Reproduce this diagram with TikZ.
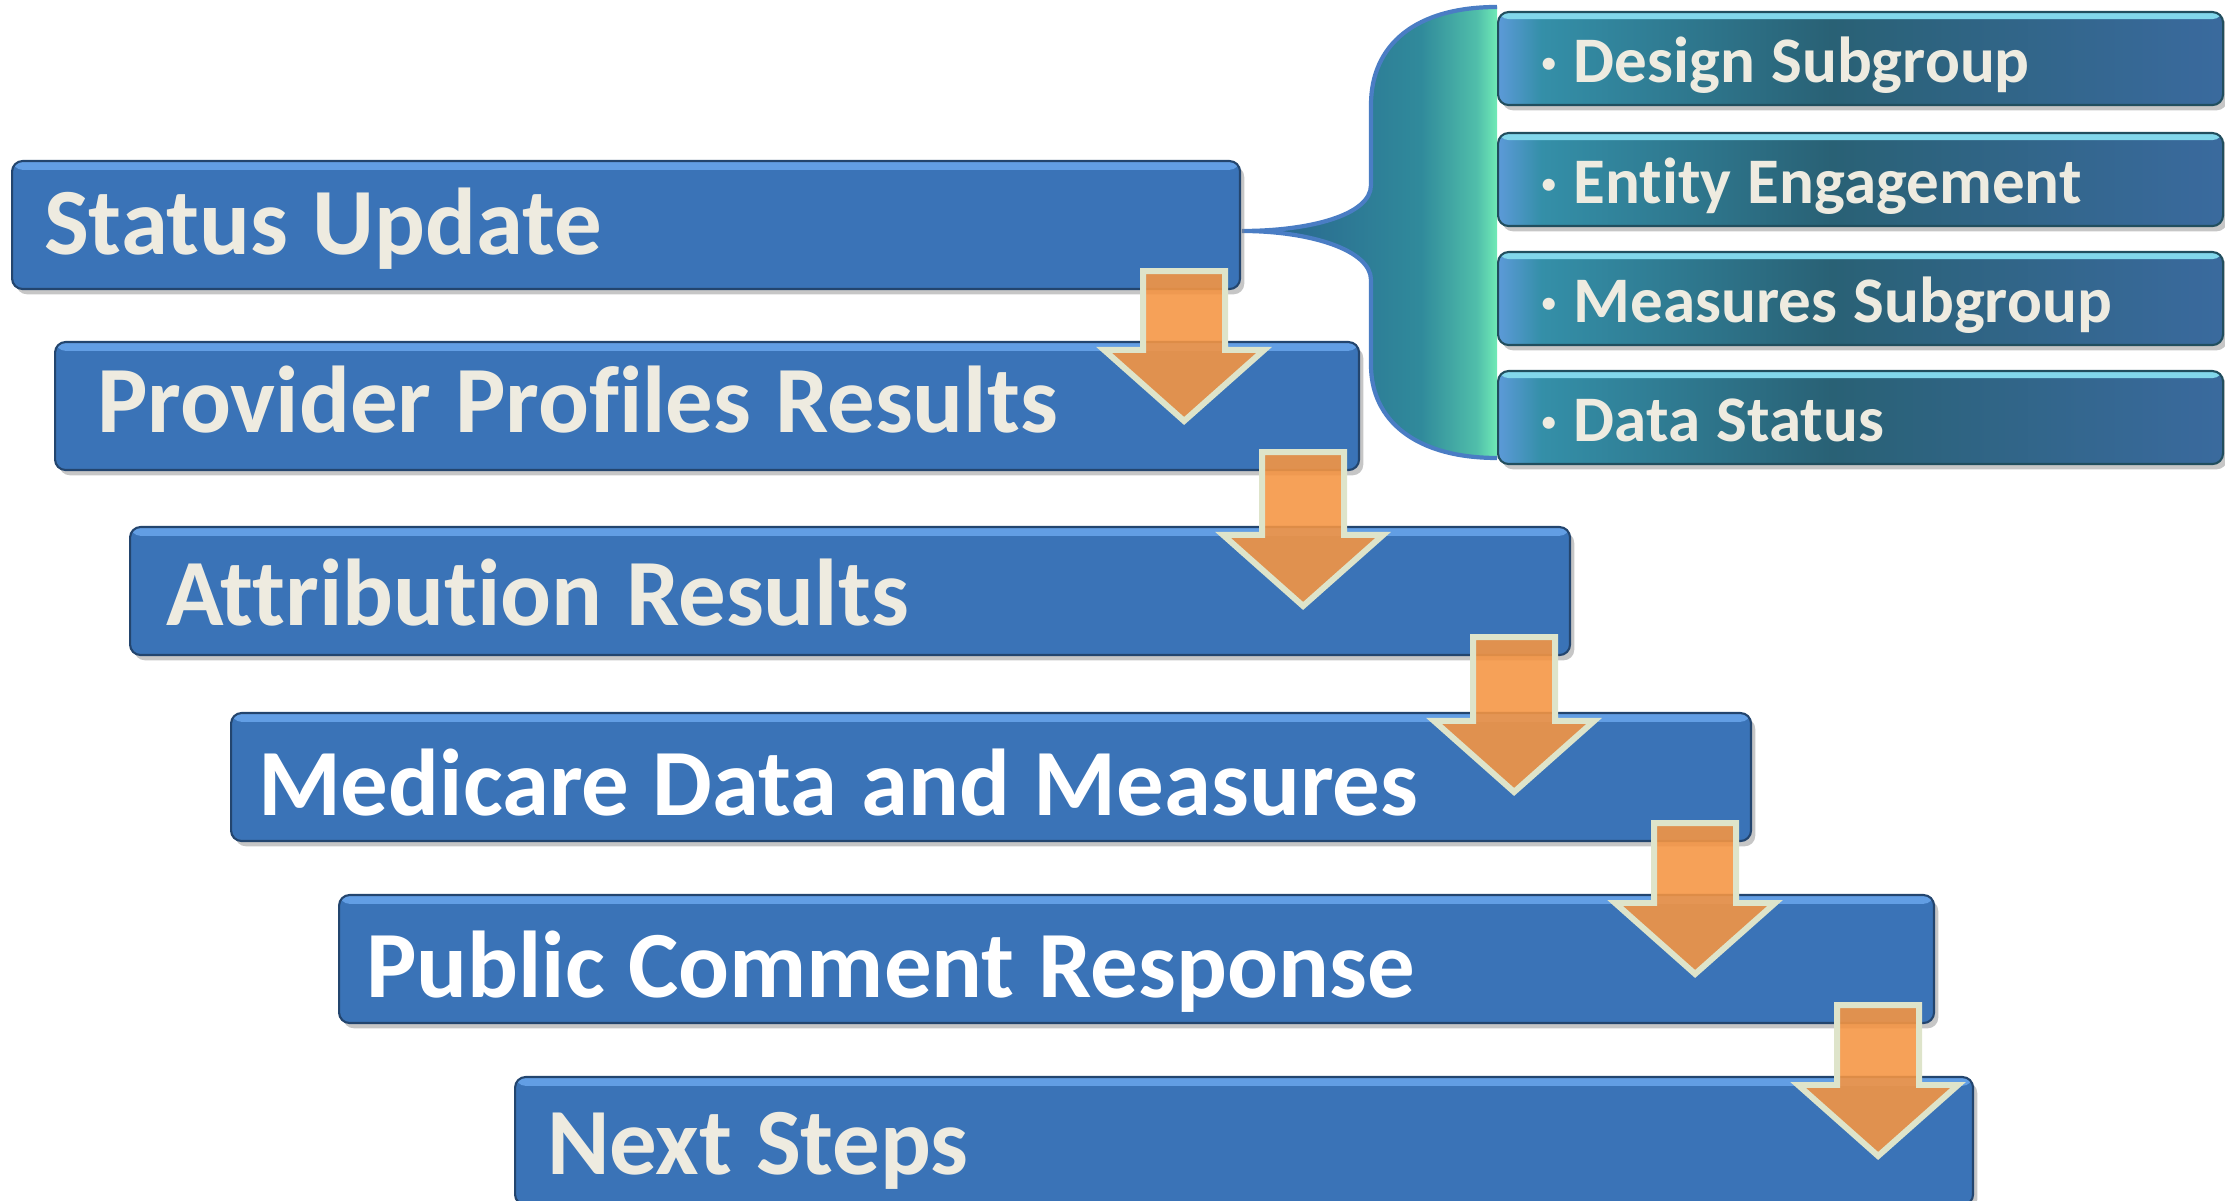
\documentclass[tikz,border=0pt]{standalone}
\usepackage{fontspec}
\setmainfont{Carlito}[Ligatures=NoCommon]
\usetikzlibrary{calc,shadows}
\definecolor{barblue}{RGB}{58,115,183}
\definecolor{barhigh}{RGB}{98,158,228}
\definecolor{bartext}{RGB}{238,235,224}
\definecolor{arroworange}{RGB}{245,149,67}
\definecolor{arrowrim}{RGB}{222,228,202}
\definecolor{bracedark}{RGB}{40,96,140}
\definecolor{braceteal}{RGB}{48,138,155}
\definecolor{bracemid}{RGB}{80,190,170}
\definecolor{bracemint}{RGB}{112,234,182}
\definecolor{braceline}{RGB}{74,125,196}
\definecolor{subleft}{RGB}{92,154,216}
\definecolor{subteal}{RGB}{52,143,168}
\definecolor{subdark}{RGB}{41,97,117}
\definecolor{subblue}{RGB}{58,106,158}
\definecolor{subhigh}{RGB}{130,215,235}
\pgfdeclarehorizontalshading{bracefade}{100bp}{color(0bp)=(bracedark); color(25bp)=(bracedark); color(60bp)=(braceteal); color(71bp)=(bracemid); color(75bp)=(bracemint); color(100bp)=(bracemint)}
\pgfdeclarehorizontalshading{subfade}{100bp}{color(0bp)=(subleft); color(25bp)=(subleft); color(28bp)=(subteal); color(48bp)=(subdark); color(75bp)=(subblue); color(100bp)=(subblue)}
\tikzset{
    stepbar/.style n args={3}{draw=barblue!60!black,line width=0.6pt,fill=barblue,rounded corners=3pt,
        minimum height=12.8mm,text width=#1,inner xsep=#2,inner ysep=0pt,text height=#3,text depth=1.6mm,
        align=left,anchor=north west,text=bartext,font=\fontsize{27}{30}\selectfont\bfseries,
        execute at begin node={\spaceskip 0.25em\relax},
        drop shadow={shadow xshift=1.2pt,shadow yshift=-1.5pt,opacity=0.45},
        path picture={\fill[barhigh] (path picture bounding box.north west) rectangle ([yshift=-2.5pt]path picture bounding box.north east);}},
    subbar/.style={draw=subdark!80!black,line width=0.6pt,shade,shading=subfade,rounded corners=3pt,
        minimum height=9.3mm,text width=64.1mm,inner xsep=4.2mm,inner ysep=0pt,text height=5.7mm,text depth=1mm,
        align=left,anchor=north west,text=bartext,font=\fontsize{18.5}{20}\selectfont\bfseries,
        execute at begin node={\spaceskip 0.25em\relax},
        drop shadow={shadow xshift=1.2pt,shadow yshift=-1.5pt,opacity=0.45},
        path picture={\fill[subhigh] (path picture bounding box.north west) rectangle ([yshift=-2pt]path picture bounding box.north east);}},
    steparrow/.style={fill=arroworange,fill opacity=0.89,draw=arrowrim,line width=1.7pt,line join=miter}
}

\begin{document}
\begin{tikzpicture}[x=0.1mm,y=-0.1mm]
    \useasboundingbox (0,0) rectangle (2225,1201);
    % brace
    \shade[shading=bracefade] (1497,7) .. controls (1415,7) and (1371,45) .. (1371,105)
        -- (1371,185) .. controls (1371,215) and (1310,231) .. (1242,231)
        .. controls (1310,231) and (1371,250) .. (1371,280)
        -- (1371,365) .. controls (1371,420) and (1415,458) .. (1497,458) -- cycle;
    \draw[braceline,line width=1.2pt] (1497,7) .. controls (1415,7) and (1371,45) .. (1371,105)
        -- (1371,185) .. controls (1371,215) and (1310,231) .. (1242,231)
        .. controls (1310,231) and (1371,250) .. (1371,280)
        -- (1371,365) .. controls (1371,420) and (1415,458) .. (1497,458);
    \node[subbar] (s1) at (1497,11) {· Design Subgroup};
    \node[subbar] (s2) at (1497,132) {· Entity Engagement};
    \node[subbar] (s3) at (1497,251) {· Measures Subgroup};
    \node[subbar] (s4) at (1497,370) {· Data Status};
    % steps
    \node[stepbar={116.4mm}{3.2mm}{7.4mm}] (b1) at (11,160) {Status Update};
    \node[stepbar={122.0mm}{4.2mm}{6.8mm}] (b2) at (54,341) {Provider Profiles Results};
    \node[stepbar={136.8mm}{3.6mm}{8.4mm}] (b3) at (129,526) {Attribution Results};
    \node[stepbar={146.6mm}{2.7mm}{9.2mm},text=white] (b4) at (230,712) {Medicare Data and Measures};
    \node[stepbar={154.1mm}{2.7mm}{9.2mm},text=white] (b5) at (338,894) {Public Comment Response};
    \node[stepbar={139.4mm}{3.2mm}{8.2mm}] (b6) at (514,1076) {Next Steps};
    \foreach \up/\down in {b1/b2,b2/b3,b3/b4,b4/b5,b5/b6} {
        \coordinate (tail) at ($(\up.south east)+(-57,-19)$);
        \coordinate (tip) at ($(tail |- \down.north)+(0,80)$);
        \draw[steparrow] ($(tail)+(-41,0)$) -- ($(tail)+(41,0)$) -- ($(tip)+(41,-71)$)
            -- ($(tip)+(80,-71)$) -- (tip) -- ($(tip)+(-80,-71)$) -- ($(tip)+(-41,-71)$) -- cycle;
    }
\end{tikzpicture}
\end{document}
